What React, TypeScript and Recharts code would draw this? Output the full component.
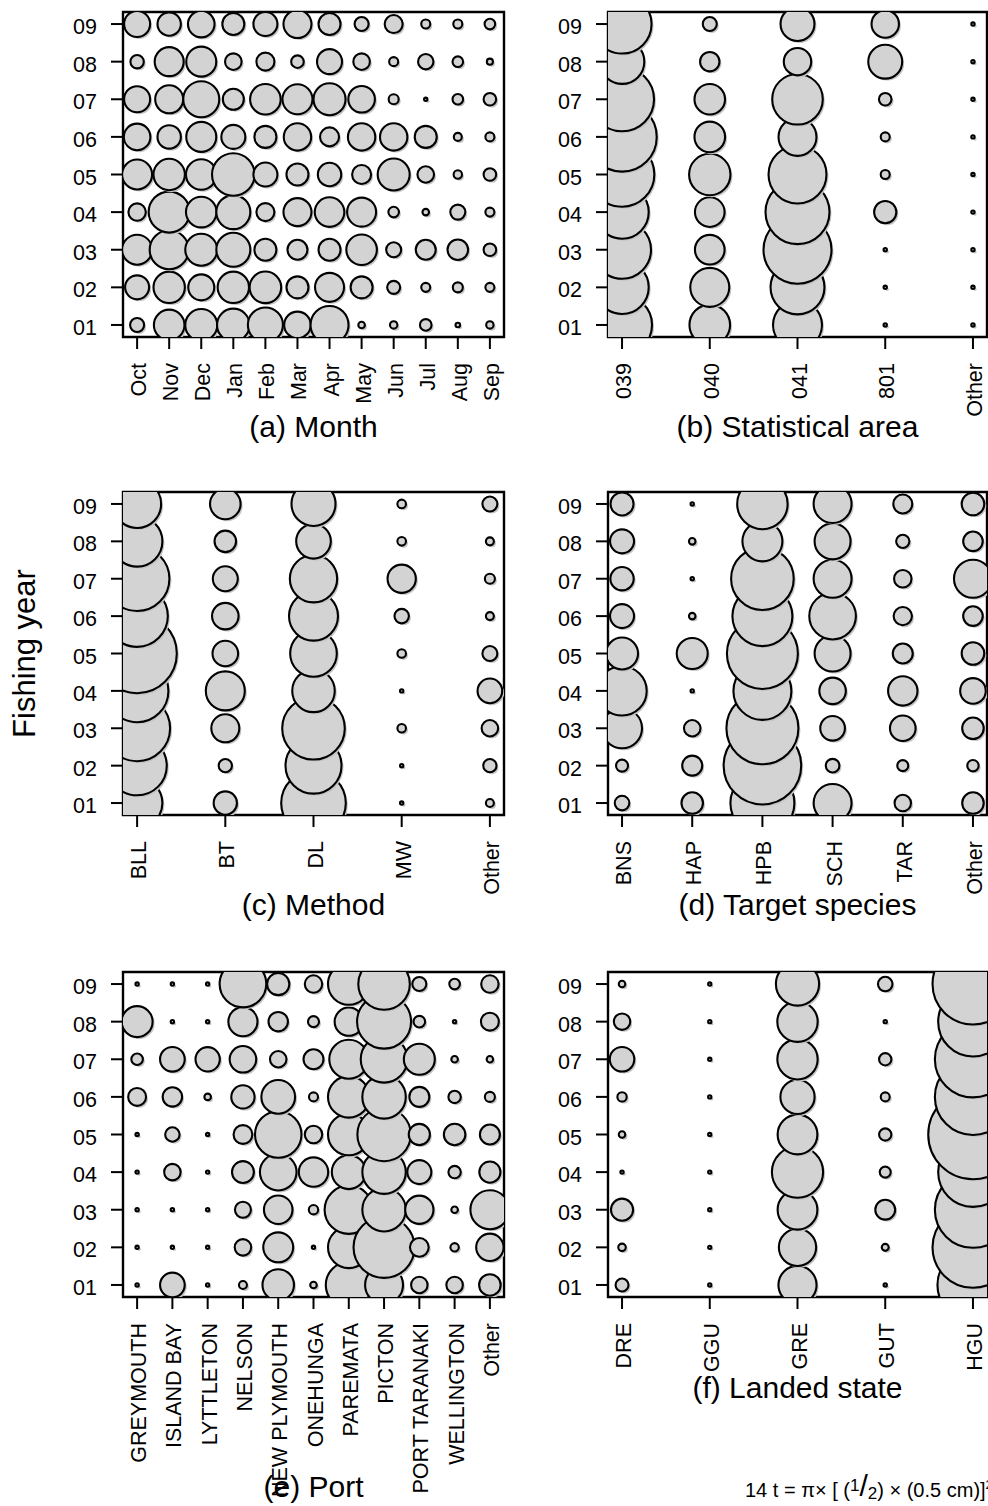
import React from "react"
import { ScatterChart, Scatter, XAxis, YAxis, ZAxis, ReferenceArea, Label } from "recharts"

const FONT = "'Liberation Sans', Arial, Helvetica, sans-serif"

// fishing years on the y axis (index 0 = 01)
const years = ["01", "02", "03", "04", "05", "06", "07", "08", "09"]

const months = ["Oct", "Nov", "Dec", "Jan", "Feb", "Mar", "Apr", "May", "Jun", "Jul", "Aug", "Sep"]
const statAreas = ["039", "040", "041", "801", "Other"]
const methods = ["BLL", "BT", "DL", "MW", "Other"]
const targets = ["BNS", "HAP", "HPB", "SCH", "TAR", "Other"]
const ports = [
  "GREYMOUTH", "ISLAND BAY", "LYTTLETON", "NELSON", "NEW PLYMOUTH", "ONEHUNGA",
  "PAREMATA", "PICTON", "PORT TARANAKI", "WELLINGTON", "Other",
]
const landedStates = ["DRE", "GGU", "GRE", "GUT", "HGU"]

// catch (t), one row per fishing year 01..09, one value per category
const monthCatch = [
  [12.3, 58.5, 64, 66.4, 76.6, 44.2, 90.3, 2.7, 3.4, 8.4, 1.3, 3.4],
  [36, 61.6, 42.3, 61.6, 62.4, 30.3, 52.6, 30.3, 10.6, 5.1, 6.3, 5.1],
  [56.3, 95.1, 64, 72.3, 30.3, 25, 30.3, 58.5, 14.1, 25, 26.5, 9.9],
  [18.9, 105.1, 58.5, 72.3, 20.3, 49, 54.8, 52.6, 7, 2.7, 14.1, 5.1],
  [56.3, 61.6, 58.5, 113.4, 36, 30.3, 34.2, 22.6, 64, 17.2, 4.4, 9.9],
  [44.2, 34.2, 56.3, 36, 30.3, 46.9, 22.6, 46.9, 46.9, 30.3, 4, 5.1],
  [42.3, 49, 81, 27.6, 58.5, 56.3, 64, 44.2, 6.3, 0.7, 7, 9.9],
  [11.2, 52.6, 56.3, 17.2, 20.3, 9.9, 39.1, 17.2, 5.1, 14.8, 7, 2.3],
  [42.3, 34.2, 44.2, 30.3, 36, 49, 30.3, 12.3, 20.3, 5.1, 5.1, 7],
]

const areaCatch = [
  [225, 103, 150, 0.7, 0.7],
  [178, 95, 182, 0.7, 0.7],
  [210, 55, 289, 0.7, 0.7],
  [178, 55, 256, 31, 0.7],
  [261, 107, 210, 5.1, 0.7],
  [301, 58.5, 90, 5.1, 0.7],
  [256, 58.5, 160, 9.9, 0.7],
  [124, 23.5, 47, 72, 0.7],
  [218, 12.3, 72, 47, 0.7],
]

const methodCatch = [
  [160, 34, 261, 0.7, 4],
  [220, 11, 196, 0.7, 11],
  [272, 49, 245, 4.6, 17],
  [245, 95, 113, 0.7, 38],
  [394, 41, 136, 4.6, 14],
  [236, 44, 150, 13, 4],
  [261, 39, 140, 50, 6.3],
  [160, 29, 75, 4.6, 4],
  [144, 58.5, 121, 4.6, 14],
]

const targetCatch = [
  [13.3, 29, 256, 90, 17, 29],
  [9, 25, 376, 11.6, 7.6, 8.1],
  [100, 17, 324, 38, 41, 29],
  [152, 0.7, 210, 44, 54, 41],
  [64, 60, 315, 81, 25, 32],
  [36, 2.7, 225, 136, 21, 24],
  [34, 0.7, 245, 90, 19, 90],
  [36, 2.7, 100, 81, 11, 24],
  [33, 0.7, 159, 90, 22.6, 32],
]

const portCatch = [
  [0.7, 38, 0.7, 4, 62, 2.7, 132, 90, 17, 17, 29],
  [0.7, 0.7, 0.7, 17, 56, 0.7, 108, 233, 22, 4.4, 47],
  [0.7, 0.7, 0.7, 16, 51, 5.5, 146, 118, 50, 2.7, 95],
  [0.7, 17, 0.7, 30, 84, 54, 72, 118, 36, 9.6, 28],
  [0.7, 13, 0.7, 22, 135, 19, 108, 178, 28, 29, 25],
  [20, 23.5, 2.7, 34, 71, 5.1, 108, 118, 25, 9.6, 6.3],
  [8.4, 38, 37, 44, 17, 25, 95, 136, 60, 2.7, 2.6],
  [60, 0.7, 0.7, 53, 23.5, 7.6, 50, 182, 8.4, 0.7, 20],
  [0.7, 0.7, 0.7, 136, 31, 19, 108, 166, 12.3, 7, 19],
]

const stateCatch = [
  [10.6, 0.7, 92, 0.7, 319],
  [3.6, 0.7, 88, 3.1, 414],
  [31, 0.7, 100, 25, 367],
  [0.7, 0.7, 166, 7.6, 306],
  [2.7, 0.7, 100, 9.6, 506],
  [5.5, 0.7, 74, 5.1, 367],
  [38, 0.7, 103, 9.6, 367],
  [17, 0.7, 103, 0.7, 306],
  [2.7, 0.7, 118, 13.3, 414],
]

// bubble area is proportional to catch: radius = 2 * sqrt(t)
const Z_MAX = 500
const AREA_PER_T = 4 * Math.PI

// one category column at a time, years bottom to top (later ones drawn on top)
const toPoints = (rows: number[][]) =>
  rows[0].flatMap((_, c) => rows.map((row, y) => ({ x: c + 1, y: y + 1, z: row[c] })))

const Bubble = (props: any) => {
  const { cx, cy, size, width } = props
  const r = size != null ? Math.sqrt(size / Math.PI) : width / 2
  return (
    <g>
      <circle cx={cx + 2} cy={cy + 2} r={r} fill="#c4c4c4" />
      <circle cx={cx} cy={cy} r={r} fill="#d3d3d3" stroke="#000" strokeWidth={2.1} />
    </g>
  )
}

const CategoryTick = (props: any) => {
  const { x, y, payload, labels } = props
  return (
    <text
      transform={`translate(${x + 2}, ${y}) rotate(-90)`}
      textAnchor="end"
      dominantBaseline="central"
      fontSize={21.5}
      fontFamily={FONT}
      fill="#000"
    >
      {labels[payload.value - 1]}
    </text>
  )
}

const YearTick = (props: any) => {
  const { x, y, payload } = props
  return (
    <text x={x} y={y + 3} textAnchor="end" dominantBaseline="central" fontSize={21.5} fontFamily={FONT} fill="#000">
      {years[payload.value - 1]}
    </text>
  )
}

interface PanelProps {
  title: string
  categories: string[]
  rows: number[][]
  left: number
  top: number
  plotWidth: number
  plotHeight: number
  axisWidth: number
  axisHeight: number
  titleGap: number
  marginRight: number
  yTitle?: string
}

const Panel: React.FC<PanelProps> = ({
  title, categories, rows, left, top, plotWidth, plotHeight,
  axisWidth, axisHeight, titleGap, marginRight, yTitle,
}) => {
  const n = categories.length
  const pad = 0.04 * (n - 1)
  const xMin = 1 - pad
  const xMax = n + pad
  const yMin = 1 - 0.32
  const yMax = 9 + 0.32
  const data = toPoints(rows)
  const xTicks = categories.map((_, i) => i + 1)
  const yTicks = years.map((_, i) => i + 1)
  const tickLine = { stroke: "#000", strokeWidth: 2 }

  return (
    <div style={{ position: "absolute", left: left - axisWidth, top: top - 12 }}>
      <ScatterChart
        width={axisWidth + plotWidth + marginRight}
        height={12 + plotHeight + axisHeight}
        margin={{ top: 12, right: marginRight, bottom: 0, left: 0 }}
      >
        <XAxis
          type="number"
          dataKey="x"
          domain={[xMin, xMax]}
          ticks={xTicks}
          interval={0}
          allowDataOverflow
          height={axisHeight}
          axisLine={false}
          tickSize={12}
          tickMargin={14}
          tickLine={tickLine}
          tick={(p: any) => <CategoryTick {...p} labels={categories} />}
        >
          <Label
            content={(p: any) => (
              <text
                x={p.viewBox.x + p.viewBox.width / 2}
                y={p.viewBox.y + titleGap}
                textAnchor="middle"
                fontSize={30}
                fontFamily={FONT}
                fill="#000"
              >
                {title}
              </text>
            )}
          />
        </XAxis>
        <YAxis
          type="number"
          dataKey="y"
          domain={[yMin, yMax]}
          ticks={yTicks}
          interval={0}
          allowDataOverflow
          width={axisWidth}
          axisLine={false}
          tickSize={12}
          tickMargin={14}
          tickLine={tickLine}
          tick={<YearTick />}
        >
          {yTitle && (
            <Label
              content={(p: any) => {
                const cx = p.viewBox.x + 35
                const cy = p.viewBox.y + p.viewBox.height / 2
                return (
                  <text
                    transform={`translate(${cx}, ${cy}) rotate(-90)`}
                    textAnchor="middle"
                    fontSize={31}
                    fontFamily={FONT}
                    fill="#000"
                  >
                    {yTitle}
                  </text>
                )
              }}
            />
          )}
        </YAxis>
        <ZAxis type="number" dataKey="z" domain={[0, Z_MAX]} range={[0, Z_MAX * AREA_PER_T]} />
        <Scatter data={data} shape={<Bubble />} isAnimationActive={false} />
        <ReferenceArea
          x1={xMin}
          x2={xMax}
          y1={yMin}
          y2={yMax}
          fill="none"
          fillOpacity={0}
          stroke="#000"
          strokeWidth={2.4}
          ifOverflow="visible"
        />
      </ScatterChart>
    </div>
  )
}

const App: React.FC = () => {
  return (
    <div
      style={{
        position: "absolute",
        left: 0,
        top: 0,
        width: 988,
        height: 1506,
        overflow: "hidden",
        background: "#fff",
      }}
    >
      <Panel title="(a) Month" categories={months} rows={monthCatch}
        left={123} top={12} plotWidth={381} plotHeight={325}
        axisWidth={123} axisHeight={110} titleGap={100} marginRight={8} />
      <Panel title="(b) Statistical area" categories={statAreas} rows={areaCatch}
        left={608} top={12} plotWidth={379} plotHeight={325}
        axisWidth={80} axisHeight={110} titleGap={100} marginRight={1} />
      <Panel title="(c) Method" categories={methods} rows={methodCatch}
        left={123} top={492} plotWidth={381} plotHeight={323}
        axisWidth={123} axisHeight={110} titleGap={100} marginRight={8} yTitle="Fishing year" />
      <Panel title="(d) Target species" categories={targets} rows={targetCatch}
        left={608} top={492} plotWidth={379} plotHeight={323}
        axisWidth={80} axisHeight={110} titleGap={100} marginRight={1} />
      <Panel title="(e) Port" categories={ports} rows={portCatch}
        left={123} top={972} plotWidth={381} plotHeight={325}
        axisWidth={123} axisHeight={210} titleGap={200} marginRight={8} />
      <Panel title="(f) Landed state" categories={landedStates} rows={stateCatch}
        left={608} top={972} plotWidth={379} plotHeight={325}
        axisWidth={80} axisHeight={110} titleGap={101} marginRight={1} />
      <svg width={988} height={1506} style={{ position: "absolute", left: 0, top: 0, pointerEvents: "none" }}>
        <text x={745} y={1497} fontSize={20} fontFamily={FONT} fill="#000">
          14 t = π× [ (
          <tspan dy={-6} fontSize={17}>1</tspan>
          <tspan dy={5} fontSize={30}>/</tspan>
          <tspan dy={3} fontSize={17}>2</tspan>
          <tspan dy={-2}>) × (0.5 cm)]</tspan>
          <tspan dy={-8} fontSize={13}>2</tspan>
        </text>
      </svg>
    </div>
  )
}

export default App
